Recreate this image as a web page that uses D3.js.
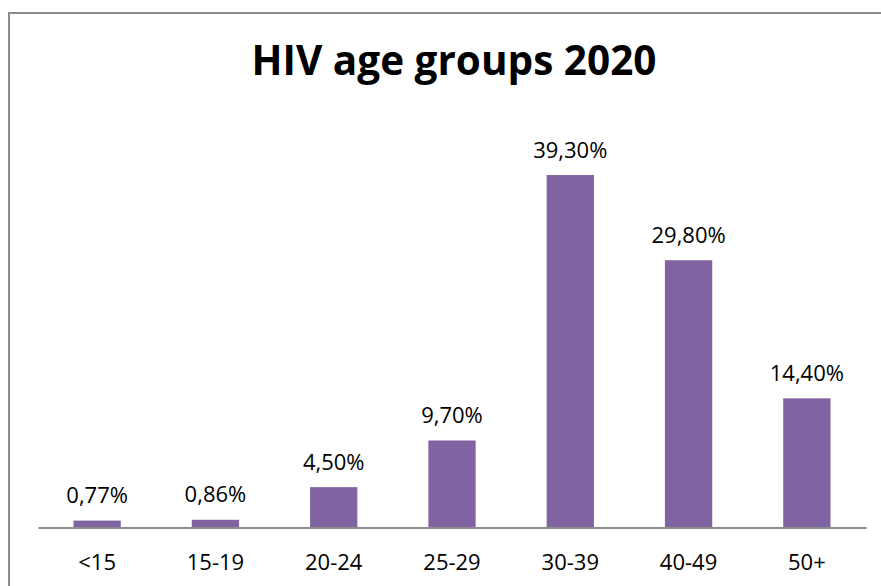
<!DOCTYPE html>
<html>
<head>
<meta charset="utf-8">
<script src="https://cdn.jsdelivr.net/npm/d3@7"></script>
<style>
  html, body { margin: 0; padding: 0; background: #fff; }
  svg { display: block; }
</style>
</head>
<body>
<svg id="chart" width="881" height="586"></svg>
<script>
const categories = ["<15", "15-19", "20-24", "25-29", "30-39", "40-49", "50+"];
const shares = [0.77, 0.86, 4.5, 9.7, 39.3, 29.8, 14.4];
const shareLabels = ["0,77%", "0,86%", "4,50%", "9,70%", "39,30%", "29,80%", "14,40%"];
const chartTitle = "HIV age groups 2020";

const svg = d3.select("#chart");
const font = "'Open Sans', sans-serif";

// outer frame (runs past the right and bottom edges)
svg.append("rect")
  .attr("x", 9).attr("y", 13)
  .attr("width", 900).attr("height", 600)
  .attr("fill", "none")
  .attr("stroke", "#8c8c8c")
  .attr("stroke-width", 2);

svg.append("text")
  .attr("x", 454).attr("y", 75)
  .attr("text-anchor", "middle")
  .attr("font-family", font)
  .attr("font-weight", "bold")
  .attr("font-size", 40.5)
  .attr("fill", "#000")
  .text(chartTitle);

const x = d3.scaleBand()
  .domain(categories)
  .range([38, 866])
  .paddingInner(0.6)
  .paddingOuter(0.3);

const y = d3.scaleLinear()
  .domain([0, 45])
  .range([527.5, 123.9]);

svg.selectAll("rect.bar")
  .data(categories)
  .join("rect")
  .attr("class", "bar")
  .attr("x", d => x(d))
  .attr("width", x.bandwidth())
  .attr("y", (d, i) => y(shares[i]))
  .attr("height", (d, i) => y(0) - y(shares[i]))
  .attr("fill", "#8064a2");

svg.selectAll("text.val")
  .data(categories)
  .join("text")
  .attr("class", "val")
  .attr("x", d => x(d) + x.bandwidth() / 2)
  .attr("y", (d, i) => y(shares[i]) - 17.5)
  .attr("text-anchor", "middle")
  .attr("font-family", font)
  .attr("font-size", 22)
  .attr("fill", "#000")
  .text((d, i) => shareLabels[i]);

const axis = d3.axisBottom(x).tickSize(0).tickPadding(0);
const g = svg.append("g")
  .attr("transform", `translate(0,${y(0)})`)
  .call(axis);
g.select(".domain").attr("stroke", "#8c8c8c").attr("stroke-width", 2);
g.selectAll(".tick text")
  .attr("dy", null)
  .attr("y", 42.5)
  .attr("font-family", font)
  .attr("font-size", 22)
  .attr("fill", "#000");
</script>
</body>
</html>
